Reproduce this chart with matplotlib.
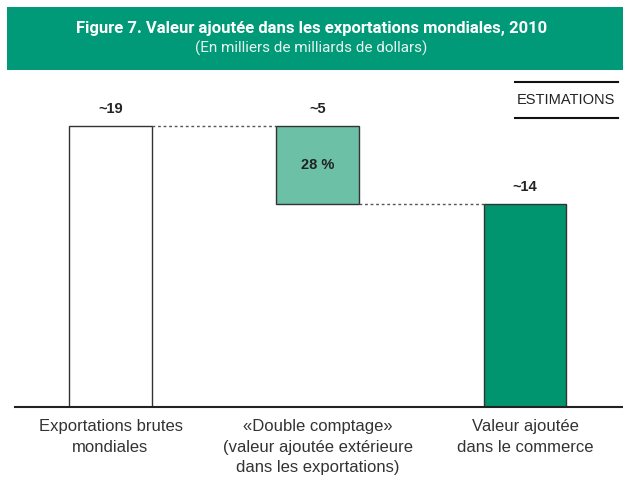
import matplotlib.pyplot as plt
from matplotlib.patches import Rectangle

categories = ["Exportations brutes\nmondiales",
              "«Double comptage»\n(valeur ajoutée extérieure\ndans les exportations)",
              "Valeur ajoutée\ndans le commerce"]
gross_exports = 19.0
double_counting = 5.3
value_added = gross_exports - double_counting
value_labels = ["~19", "~5", "~14"]
share_label = "28 %"

plt.rcParams['font.family'] = ['Liberation Sans', 'DejaVu Sans']

W, H = 623, 478
fig = plt.figure(figsize=(W / 100, H / 100), dpi=100)

# header band
fig.patches.append(Rectangle((7 / W, (H - 70) / H), 1 - 7 / W, 63 / H,
                             transform=fig.transFigure, facecolor='#009a78',
                             edgecolor='none', zorder=0))
fig.text(0.5, (H - 29) / H, "Figure 7. Valeur ajoutée dans les exportations mondiales, 2010",
         ha='center', va='center', color='white', fontsize=12, fontweight='bold',
         family=['Roboto', 'DejaVu Sans'])
fig.text(0.5, (H - 48) / H, "(En milliers de milliards de dollars)",
         ha='center', va='center', color='#e8f5f0', fontsize=11,
         family=['Roboto', 'DejaVu Sans'])

ax = fig.add_axes([15 / W, (H - 407) / H, 1 - 15 / W, 327 / H])
px = 207.25
ax.set_xlim(-(110.5 - 15) / px, 2 + (623 - 525) / px)
ax.set_ylim(0, 327 / (281 / gross_exports))

bw = 0.40
edge = '#333333'
ax.bar(0, gross_exports, width=bw, color='white', edgecolor=edge, linewidth=1)
ax.bar(1, double_counting, bottom=value_added, width=bw, color='#6cc0a6',
       edgecolor=edge, linewidth=1)
ax.bar(2, value_added, width=bw, color='#00956f', edgecolor=edge, linewidth=1)

# connectors
ax.plot([0 + bw / 2, 1 - bw / 2], [gross_exports, gross_exports], linestyle=(0, (2, 2)),
        color='#555555', linewidth=1)
ax.plot([1 + bw / 2, 2 - bw / 2], [value_added, value_added], linestyle=(0, (2, 2)),
        color='#555555', linewidth=1)

tops = [gross_exports, gross_exports, value_added]
for i, (t, lab) in enumerate(zip(tops, value_labels)):
    ax.text(i, t + 0.7, lab, ha='center', va='bottom', fontsize=10.5,
            fontweight='bold', color='#222222')
ax.text(1, value_added + double_counting / 2, share_label, ha='center', va='center',
        fontsize=10.5, fontweight='bold', color='#222222')

for s in ['top', 'left', 'right']:
    ax.spines[s].set_visible(False)
ax.spines['bottom'].set_linewidth(1.5)
ax.spines['bottom'].set_color('#222222')
ax.set_yticks([])
ax.set_xticks([0, 1, 2])
ax.set_xticklabels(categories, fontsize=12, color='#333333', linespacing=1.45)
ax.tick_params(axis='x', length=0, pad=9)

# estimations box
fig.add_artist(plt.Line2D([515 / W, 618 / W], [(H - 82) / H, (H - 82) / H],
                          color='#111111', linewidth=1.5))
fig.add_artist(plt.Line2D([515 / W, 618 / W], [(H - 118) / H, (H - 118) / H],
                          color='#111111', linewidth=1.5))
fig.text(566 / W, (H - 100) / H, "ESTIMATIONS", ha='center', va='center',
         fontsize=10.5, color='#222222')

plt.savefig("out.png", dpi=100)
